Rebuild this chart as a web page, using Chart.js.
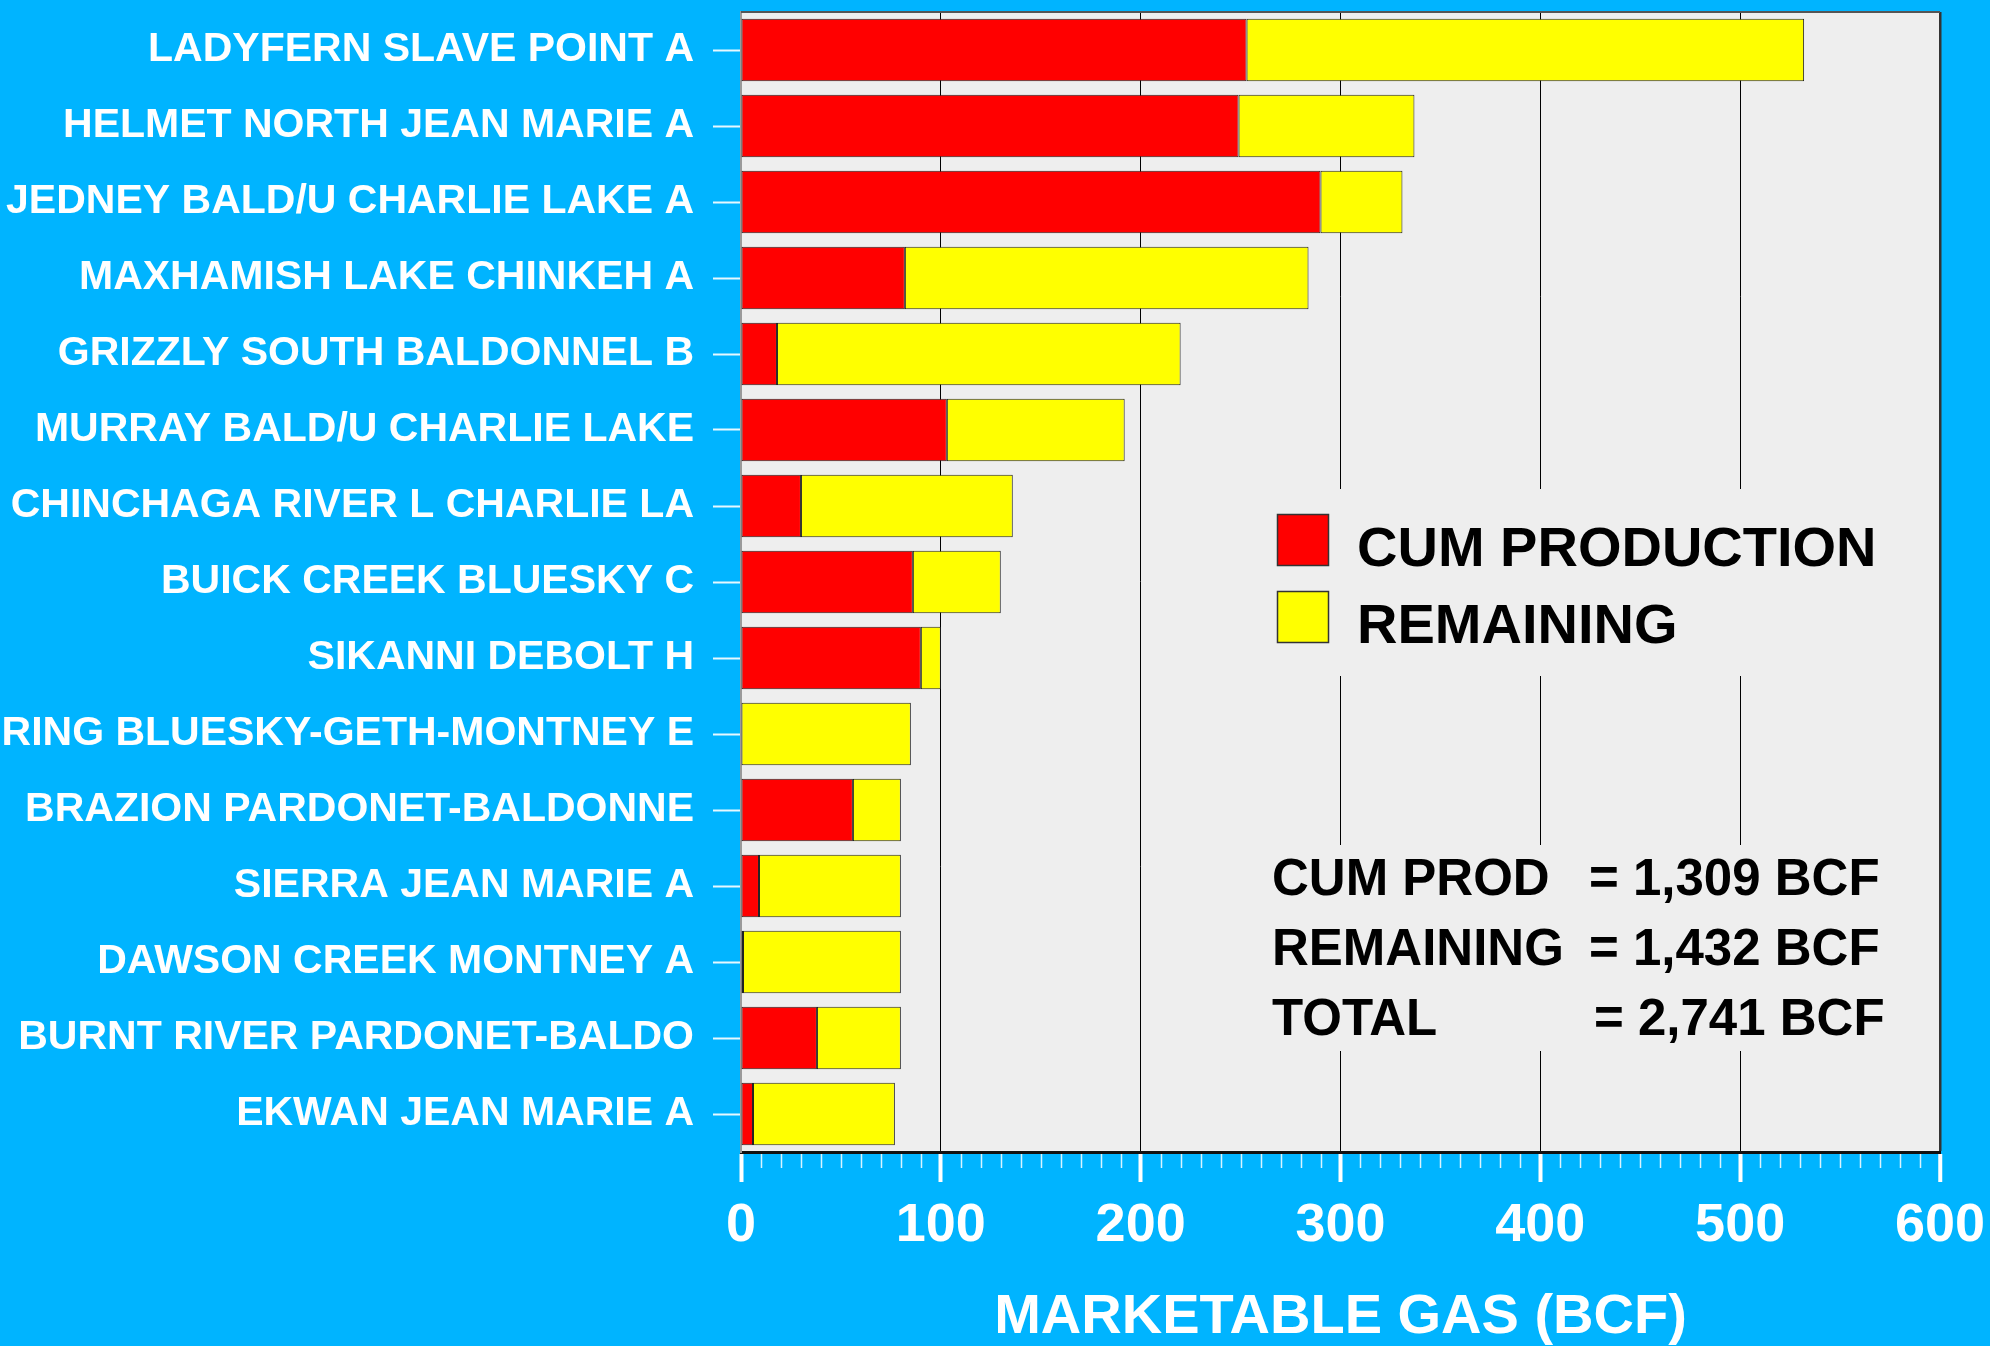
<!DOCTYPE html>
<html>
<head>
<meta charset="utf-8">
<script src="https://cdn.jsdelivr.net/npm/chart.js@4.4.1/dist/chart.umd.min.js"></script>
<style>
html,body{margin:0;padding:0;background:#00B4FF;}
canvas{display:block;}
</style>
</head>
<body>
<canvas id="c" width="1990" height="1346"></canvas>
<script>
// ---- DATA ----
const fields = [
  'LADYFERN SLAVE POINT A',
  'HELMET NORTH JEAN MARIE A',
  'JEDNEY BALD/U CHARLIE LAKE A',
  'MAXHAMISH LAKE CHINKEH A',
  'GRIZZLY SOUTH BALDONNEL B',
  'MURRAY BALD/U CHARLIE LAKE',
  'CHINCHAGA RIVER L CHARLIE LA',
  'BUICK CREEK BLUESKY C',
  'SIKANNI DEBOLT H',
  'RING BLUESKY-GETH-MONTNEY E',
  'BRAZION PARDONET-BALDONNE',
  'SIERRA JEAN MARIE A',
  'DAWSON CREEK MONTNEY A',
  'BURNT RIVER PARDONET-BALDO',
  'EKWAN JEAN MARIE A'
];
const cumProduction = [253, 249, 290, 82, 18, 103, 30, 86, 90, 0, 56, 9, 1, 38, 6];
const remaining     = [279,  88,  41, 202, 202, 89, 106, 44, 10, 85, 24, 71, 79, 42, 71];
const seriesNames = ['CUM PRODUCTION', 'REMAINING'];
const xTickValues = [0, 100, 200, 300, 400, 500, 600];
const xTitle = 'MARKETABLE GAS (BCF)';
const statLabels = ['CUM PROD', 'REMAINING', 'TOTAL'];
const statValues = ['= 1,309 BCF', '= 1,432 BCF', '= 2,741 BCF'];

// ---- STYLE ----
const FONT = "'Liberation Sans', Arial, Helvetica, sans-serif";
const BG = '#00B4FF';
const PLOT = '#EEEEEE';
const RED = '#FF0000';
const YELLOW = '#FFFF00';

const decor = {
  id: 'decor',
  beforeDraw(chart) {
    const {ctx, chartArea: a} = chart;
    ctx.save();
    ctx.fillStyle = BG;
    ctx.fillRect(0, 0, chart.width, chart.height);
    ctx.fillStyle = PLOT;
    ctx.fillRect(a.left, a.top, a.right - a.left, a.bottom - a.top);
    ctx.restore();
  },
  beforeDatasetsDraw(chart) {
    const {ctx, chartArea: a} = chart;
    ctx.save();
    // background panels for legend and totals (cover grid lines)
    ctx.fillStyle = PLOT;
    ctx.fillRect(1262, 489, 650, 187);
    ctx.fillRect(1262, 845, 650, 206);
    // top border
    ctx.strokeStyle = '#555';
    ctx.lineWidth = 2;
    ctx.beginPath();
    ctx.moveTo(a.left, a.top);
    ctx.lineTo(a.right, a.top);
    ctx.stroke();
    ctx.restore();
  },
  afterDraw(chart) {
    const {ctx} = chart;
    const xs = chart.scales.x;
    ctx.save();
    // minor ticks every 10
    ctx.strokeStyle = 'rgba(255,255,255,0.85)';
    ctx.lineWidth = 1.5;
    for (let v = xs.min; v <= xs.max; v += 10) {
      if (v % 100 === 0) continue;
      const px = Math.round(xs.getPixelForValue(v)) + 0.5;
      ctx.beginPath();
      ctx.moveTo(px, xs.top + 2);
      ctx.lineTo(px, xs.top + 16);
      ctx.stroke();
    }
    // legend
    ctx.textAlign = 'left';
    ctx.textBaseline = 'alphabetic';
    ctx.font = 'bold 56px ' + FONT;
    const legY = [514, 591];
    chart.data.datasets.forEach((ds, i) => {
      ctx.fillStyle = ds.backgroundColor;
      ctx.fillRect(1277, legY[i], 52, 52);
      ctx.strokeStyle = '#333';
      ctx.lineWidth = 1.5;
      ctx.strokeRect(1277.5, legY[i] + 0.5, 51, 51);
      ctx.fillStyle = '#000';
      ctx.fillText(ds.label, 1357, legY[i] + 52);
    });
    // totals text
    ctx.font = 'bold 51px ' + FONT;
    const baseY = [895, 965, 1035];
    const valX = [1589, 1589, 1594];
    statLabels.forEach((t, i) => {
      ctx.fillStyle = '#000';
      ctx.fillText(t, 1272, baseY[i]);
      ctx.fillText(statValues[i], valX[i], baseY[i]);
    });
    ctx.restore();
  }
};

function zeroPad(scale) {
  scale.paddingTop = 0; scale.paddingBottom = 0;
  scale.paddingLeft = 0; scale.paddingRight = 0;
}

new Chart(document.getElementById('c'), {
  type: 'bar',
  data: {
    labels: fields,
    datasets: [
      {label: seriesNames[0], data: cumProduction, backgroundColor: RED, borderColor: '#222', borderWidth: 1, borderSkipped: false, barPercentage: 0.82, categoryPercentage: 1.0},
      {label: seriesNames[1], data: remaining, backgroundColor: YELLOW, borderColor: '#222', borderWidth: 1, borderSkipped: false, barPercentage: 0.82, categoryPercentage: 1.0}
    ]
  },
  options: {
    indexAxis: 'y',
    responsive: false,
    animation: false,
    devicePixelRatio: 1,
    layout: {autoPadding: false, padding: {top: 12, right: 50, left: 0, bottom: 0}},
    plugins: {legend: {display: false}, tooltip: {enabled: false}},
    scales: {
      x: {
        type: 'linear',
        stacked: true,
        min: 0, max: 600,
        afterBuildTicks(scale) { scale.ticks = xTickValues.map(v => ({value: v})); },
        afterFit(scale) { scale.height = 194; zeroPad(scale); },
        ticks: {
          color: '#FFFFFF',
          font: {family: FONT, size: 54, weight: 'bold', lineHeight: 1.2},
          padding: 12,
          autoSkip: false,
          maxRotation: 0
        },
        grid: {
          drawOnChartArea: true,
          color: (c) => c.tick && c.tick.value === 600 ? '#333' : (c.tick && c.tick.value === 0 ? 'rgba(0,0,0,0)' : '#000'),
          lineWidth: (c) => c.tick && c.tick.value === 600 ? 2.5 : 1,
          tickColor: '#FFFFFF',
          tickWidth: 4,
          tickLength: 30
        },
        border: {display: true, color: '#111', width: 3},
        title: {
          display: true,
          text: xTitle,
          color: '#FFFFFF',
          font: {family: FONT, size: 56, weight: 'bold', lineHeight: 1.0},
          padding: {top: 0, bottom: 0}
        }
      },
      y: {
        type: 'category',
        stacked: true,
        afterFit(scale) { scale.width = 741; zeroPad(scale); },
        ticks: {
          color: '#FFFFFF',
          font: {family: FONT, size: 41, weight: 'bold'},
          padding: 19,
          autoSkip: false
        },
        grid: {
          offset: false,
          drawOnChartArea: false,
          tickColor: 'rgba(255,255,255,0.9)',
          tickWidth: 2,
          tickLength: 28
        },
        border: {display: true, color: '#9a9a9a', width: 2}
      }
    }
  },
  plugins: [decor]
});
</script>
</body>
</html>
